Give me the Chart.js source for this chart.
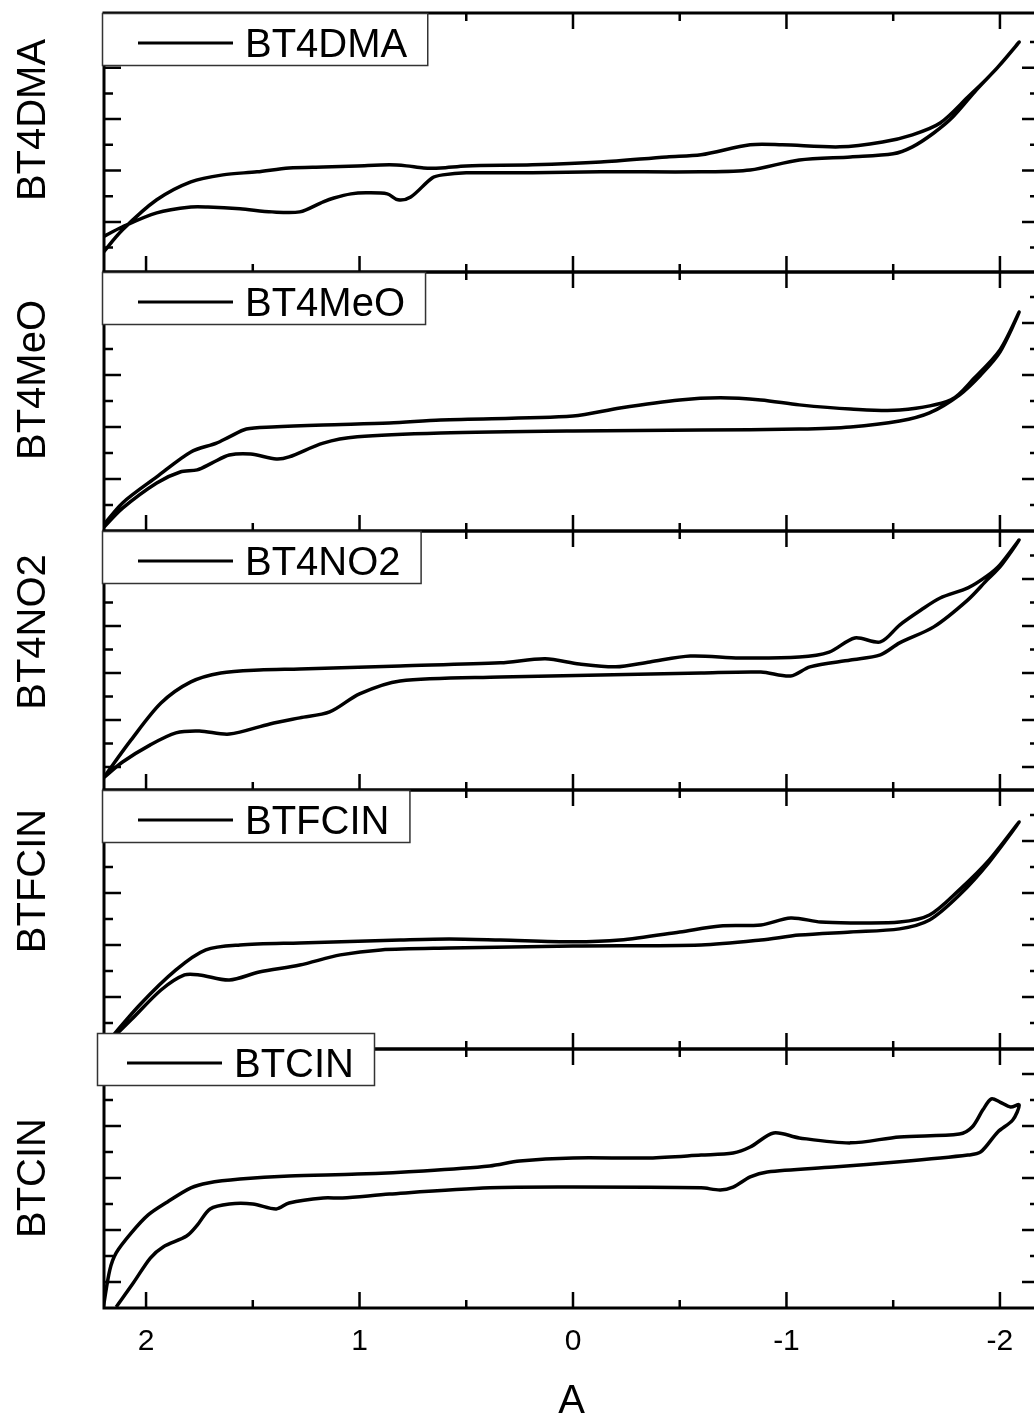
<!DOCTYPE html>
<html>
<head>
<meta charset="utf-8">
<title>Cyclic voltammograms</title>
<script src="https://cdn.jsdelivr.net/npm/chart.js@4.4.1/dist/chart.umd.min.js"></script>
<style>
    html, body { margin: 0; padding: 0; background: #fff; }
    #figure { position: relative; width: 1034px; height: 1422px; overflow: hidden; }
    #figure canvas { position: absolute; left: 0; }
</style>
</head>
<body>
<div id="figure"></div>
<script>
// Compound names, one per panel (top to bottom)
const panelNames = ['BT4DMA', 'BT4MeO', 'BT4NO2', 'BTFCIN', 'BTCIN'];

// Shared potential axis
const xMajorTicks = [2, 1, 0, -1, -2];
const xMinorTicks = [1.5, 0.5, -0.5, -1.5];
const xLabels = ['2', '1', '0', '-1', '-2'];
const xTitle = 'A';

// BT4DMA: forward scan then return scan (potential, current)
const dmaV = [2.21, 2.11, 1.95, 1.79, 1.64, 1.48, 1.33, 1.17, 1.01, 0.86, 0.78, 0.70, 0.62, 0.50, 0.19, -0.13, -0.44, -0.60, -0.83, -0.98, -1.25, -1.45, -1.59, -1.72, -1.85, -1.97, -2.09,
    -2.00, -1.89, -1.78, -1.69, -1.59, -1.50, -1.30, -1.06, -0.83, -0.60, -0.13, 0.19, 0.50, 0.61, 0.66, 0.76, 0.82, 0.87, 0.97, 1.04, 1.12, 1.17, 1.28, 1.41, 1.56, 1.71, 1.79, 1.95, 2.11, 2.21];
const dmaI = [-1.28, -0.31, 0.86, 1.56, 1.83, 1.95, 2.10, 2.14, 2.18, 2.22, 2.18, 2.10, 2.10, 2.18, 2.22, 2.33, 2.53, 2.61, 3.00, 3.00, 2.92, 3.11, 3.39, 3.85, 4.86, 5.84, 7.00,
    6.11, 5.14, 4.09, 3.46, 2.92, 2.65, 2.53, 2.41, 2.02, 1.95, 1.95, 1.91, 1.91, 1.83, 1.71, 0.97, 0.86, 1.09, 1.13, 1.09, 0.93, 0.78, 0.39, 0.39, 0.51, 0.58, 0.58, 0.35, -0.19, -0.62];

// BT4MeO
const meoV = [2.21, 2.11, 1.95, 1.79, 1.67, 1.61, 1.53, 1.41, 1.17, 0.86, 0.62, 0.00, -0.22, -0.50, -0.69, -0.88, -1.06, -1.30, -1.53, -1.77, -1.88, -2.00, -2.09,
    -2.00, -1.91, -1.81, -1.67, -1.53, -1.30, -1.06, -0.60, 0.00, 0.62, 1.01, 1.17, 1.33, 1.39, 1.51, 1.61, 1.69, 1.76, 1.84, 1.95, 2.11, 2.21];
const meoI = [-0.88, 0.08, 1.08, 2.04, 2.38, 2.62, 2.92, 3.00, 3.08, 3.15, 3.27, 3.42, 3.73, 4.04, 4.12, 4.04, 3.85, 3.69, 3.65, 4.04, 4.88, 5.96, 7.42,
    5.88, 5.00, 4.23, 3.54, 3.23, 3.00, 2.92, 2.88, 2.85, 2.77, 2.62, 2.38, 1.85, 1.77, 1.96, 1.92, 1.62, 1.35, 1.27, 0.85, -0.12, -0.96];

// BT4NO2
const no2V = [2.20, 2.07, 1.93, 1.79, 1.65, 1.47, 1.28, 0.81, 0.34, 0.13, -0.03, -0.20, -0.36, -0.55, -0.78, -1.06, -1.20, -1.32, -1.44, -1.53, -1.63, -1.72, -1.85, -1.94, -2.00, -2.09,
    -2.00, -1.94, -1.85, -1.69, -1.53, -1.44, -1.30, -1.11, -1.02, -0.88, -0.60, -0.13, 0.34, 0.81, 1.00, 1.14, 1.28, 1.42, 1.61, 1.75, 1.86, 1.98, 2.11, 2.20];
const no2I = [-0.47, 1.15, 2.72, 3.62, 4.00, 4.13, 4.17, 4.30, 4.43, 4.60, 4.38, 4.26, 4.47, 4.72, 4.64, 4.68, 4.89, 5.49, 5.32, 6.04, 6.68, 7.19, 7.62, 8.13, 8.60, 9.66,
    8.51, 7.96, 7.11, 5.96, 5.28, 4.77, 4.55, 4.26, 3.87, 4.04, 4.00, 3.91, 3.83, 3.66, 3.11, 2.34, 2.09, 1.83, 1.40, 1.53, 1.45, 0.94, 0.21, -0.47];

// BTFCIN
const fcinV = [2.20, 2.03, 1.86, 1.72, 1.56, 1.28, 0.81, 0.58, 0.34, 0.00, -0.22, -0.50, -0.69, -0.88, -1.02, -1.16, -1.30, -1.53, -1.67, -1.81, -1.95, -2.09,
    -1.95, -1.81, -1.67, -1.53, -1.30, -1.06, -0.88, -0.60, 0.00, 0.58, 0.90, 1.09, 1.28, 1.47, 1.61, 1.75, 1.82, 1.93, 2.07, 2.20];
const fcinI = [-0.92, 0.69, 2.04, 2.81, 3.00, 3.08, 3.19, 3.23, 3.19, 3.12, 3.19, 3.50, 3.73, 3.77, 4.04, 3.88, 3.85, 3.88, 4.15, 5.12, 6.27, 7.73,
    6.19, 4.92, 3.96, 3.62, 3.50, 3.38, 3.19, 3.00, 2.96, 2.88, 2.81, 2.62, 2.23, 1.96, 1.65, 1.85, 1.85, 1.27, 0.12, -0.92];

// BTCIN
const cinV = [2.20, 2.17, 2.14, 2.07, 1.99, 1.90, 1.79, 1.71, 1.56, 1.33, 1.01, 0.70, 0.39, 0.25, 0.00, -0.36, -0.60, -0.75, -0.83, -0.94, -1.06, -1.30, -1.53, -1.81, -1.87, -1.92, -1.96, -2.00, -2.05, -2.09,
    -2.06, -1.99, -1.91, -1.85, -1.53, -1.22, -0.91, -0.83, -0.75, -0.69, -0.60, 0.00, 0.39, 0.86, 1.08, 1.17, 1.33, 1.39, 1.50, 1.61, 1.70, 1.76, 1.81, 1.92, 1.98, 2.06, 2.14];
const cinI = [-0.96, 0.46, 1.12, 1.88, 2.58, 3.08, 3.62, 3.81, 3.96, 4.08, 4.15, 4.27, 4.46, 4.65, 4.77, 4.77, 4.88, 4.96, 5.19, 5.73, 5.54, 5.35, 5.58, 5.69, 5.96, 6.62, 7.04, 6.92, 6.73, 6.81,
    6.23, 5.77, 5.00, 4.88, 4.62, 4.42, 4.23, 4.04, 3.65, 3.54, 3.62, 3.65, 3.62, 3.38, 3.23, 3.23, 3.04, 2.81, 3.00, 3.00, 2.81, 2.19, 1.77, 1.35, 0.92, -0.04, -0.96];

const panelVolts = [dmaV, meoV, no2V, fcinV, cinV];
const panelCurrents = [dmaI, meoI, no2I, fcinI, cinI];

// Current axis range of each panel and which integer ticks are long
const yMins = [-1.95, -1.0, -0.98, -1.0, -1.0];
const yMaxs = [8.13, 8.96, 10.04, 8.96, 8.96];
const majorParity = [0, 1, 0, 1, 0];

// Page layout
const PANEL_TOP = 13;
const PANEL_H = 259;
const PLOT_LEFT = 104;
const PLOT_RIGHT = 1039;
const CANVAS_W = 1050;
const HEAD = 24;
const PAGE_H = 1422;
const X_MIN = -2.183;
const X_MAX = 2.197;
// legend box: left, top, start of the sample line
const legendPos = [[102, 13, 138], [102, 272, 138], [102, 531, 138], [102, 790, 138], [97, 1033, 127]];
const titleCenterY = [120, 380, 632, 881, 1178];
const LABEL_FONT = '40px "Liberation Sans", Arial, sans-serif';

const frameAndTicks = {
    id: 'frameAndTicks',
    afterDraw(chart, args, opts) {
        const ctx = chart.ctx;
        const area = chart.chartArea;
        const xs = chart.scales.x;
        const ys = chart.scales.y;
        const i = opts.panel;

        ctx.save();
        ctx.strokeStyle = '#000';

        // inward ticks on all four sides
        ctx.lineWidth = 2.5;
        ctx.beginPath();
        const xTick = (v, len) => {
            const px = xs.getPixelForValue(v);
            ctx.moveTo(px, area.bottom);
            ctx.lineTo(px, area.bottom - len);
            ctx.moveTo(px, area.top);
            ctx.lineTo(px, area.top + len);
        };
        xMajorTicks.forEach(v => xTick(v, 16));
        xMinorTicks.forEach(v => xTick(v, 8));
        for (let v = Math.ceil(yMins[i] + 0.4); v <= Math.floor(yMaxs[i] - 0.4); v++) {
            const len = (((v - majorParity[i]) % 2) + 2) % 2 === 0 ? 17 : 9;
            const py = ys.getPixelForValue(v);
            ctx.moveTo(area.left, py);
            ctx.lineTo(area.left + len, py);
            ctx.moveTo(area.right, py);
            ctx.lineTo(area.right - len, py);
        }
        ctx.stroke();

        // frame
        ctx.lineWidth = 3;
        ctx.strokeRect(area.left, area.top, area.right - area.left, area.bottom - area.top);

        const name = panelNames[i];
        ctx.font = LABEL_FONT;
        ctx.fillStyle = '#000';

        // rotated panel title on the left
        ctx.save();
        ctx.translate(45, titleCenterY[i] - opts.canvasTop);
        ctx.rotate(-Math.PI / 2);
        ctx.textAlign = 'center';
        ctx.textBaseline = 'alphabetic';
        ctx.fillText(name, 0, 0);
        ctx.restore();

        // legend box
        const [lx, pageY, lineX] = legendPos[i];
        const ly = pageY - opts.canvasTop;
        const textX = lineX + 107;
        const w = textX + ctx.measureText(name).width + 20 - lx;
        ctx.fillStyle = '#fff';
        ctx.fillRect(lx, ly, w, 52);
        ctx.strokeStyle = '#333';
        ctx.lineWidth = 1.5;
        ctx.strokeRect(lx + 0.5, ly + 0.5, w, 52);
        ctx.strokeStyle = '#000';
        ctx.lineWidth = 3.2;
        ctx.beginPath();
        ctx.moveTo(lineX, ly + 30);
        ctx.lineTo(lineX + 95, ly + 30);
        ctx.stroke();
        ctx.fillStyle = '#000';
        ctx.textAlign = 'left';
        ctx.textBaseline = 'alphabetic';
        ctx.fillText(name, textX, ly + 44);
        ctx.restore();
    }
};

function createPanel(i) {
    const last = i === panelNames.length - 1;
    const canvasTop = PANEL_TOP + i * PANEL_H - HEAD;
    const canvasH = last ? PAGE_H - canvasTop : HEAD + PANEL_H + 6;

    const canvas = document.createElement('canvas');
    canvas.width = CANVAS_W;
    canvas.height = canvasH;
    canvas.style.top = canvasTop + 'px';
    canvas.style.width = CANVAS_W + 'px';
    canvas.style.height = canvasH + 'px';
    document.getElementById('figure').appendChild(canvas);

    const volts = panelVolts[i];
    const currents = panelCurrents[i];
    const points = volts.map((v, k) => ({ x: v, y: currents[k] }));

    new Chart(canvas.getContext('2d'), {
        type: 'scatter',
        data: {
            datasets: [{
                label: panelNames[i],
                data: points,
                showLine: true,
                borderColor: '#000',
                borderWidth: 3.5,
                pointRadius: 0,
                tension: 0.3,
                fill: false
            }]
        },
        options: {
            responsive: false,
            animation: false,
            devicePixelRatio: 1,
            layout: {
                padding: {
                    left: PLOT_LEFT,
                    right: CANVAS_W - PLOT_RIGHT,
                    top: HEAD,
                    bottom: last ? 0 : 6
                }
            },
            scales: {
                x: {
                    type: 'linear',
                    reverse: true,
                    min: X_MIN,
                    max: X_MAX,
                    display: last,
                    grid: { display: false, drawTicks: false },
                    border: { display: false },
                    afterBuildTicks: axis => {
                        axis.ticks = xMajorTicks.map(v => ({ value: v }));
                    },
                    afterFit: axis => {
                        // only the bottom panel carries tick labels and the axis title
                        axis.height = last ? PAGE_H - (PANEL_TOP + 5 * PANEL_H) : 0;
                    },
                    ticks: {
                        padding: 16,
                        color: '#000',
                        font: { family: '"Liberation Sans", Arial, sans-serif', size: 30 },
                        maxRotation: 0,
                        callback: (value, index) => xLabels[index]
                    },
                    title: {
                        display: true,
                        text: xTitle,
                        color: '#000',
                        font: { family: '"Liberation Sans", Arial, sans-serif', size: 40, lineHeight: 1 },
                        padding: { top: 0, bottom: 0 }
                    }
                },
                y: {
                    type: 'linear',
                    min: yMins[i],
                    max: yMaxs[i],
                    display: false
                }
            },
            plugins: {
                legend: { display: false },
                tooltip: { enabled: false },
                frameAndTicks: { panel: i, canvasTop: canvasTop }
            }
        },
        plugins: [frameAndTicks]
    });
}

document.addEventListener('DOMContentLoaded', function() {
    for (let i = 0; i < panelNames.length; i++) {
        createPanel(i);
    }
});
</script>
</body>
</html>
